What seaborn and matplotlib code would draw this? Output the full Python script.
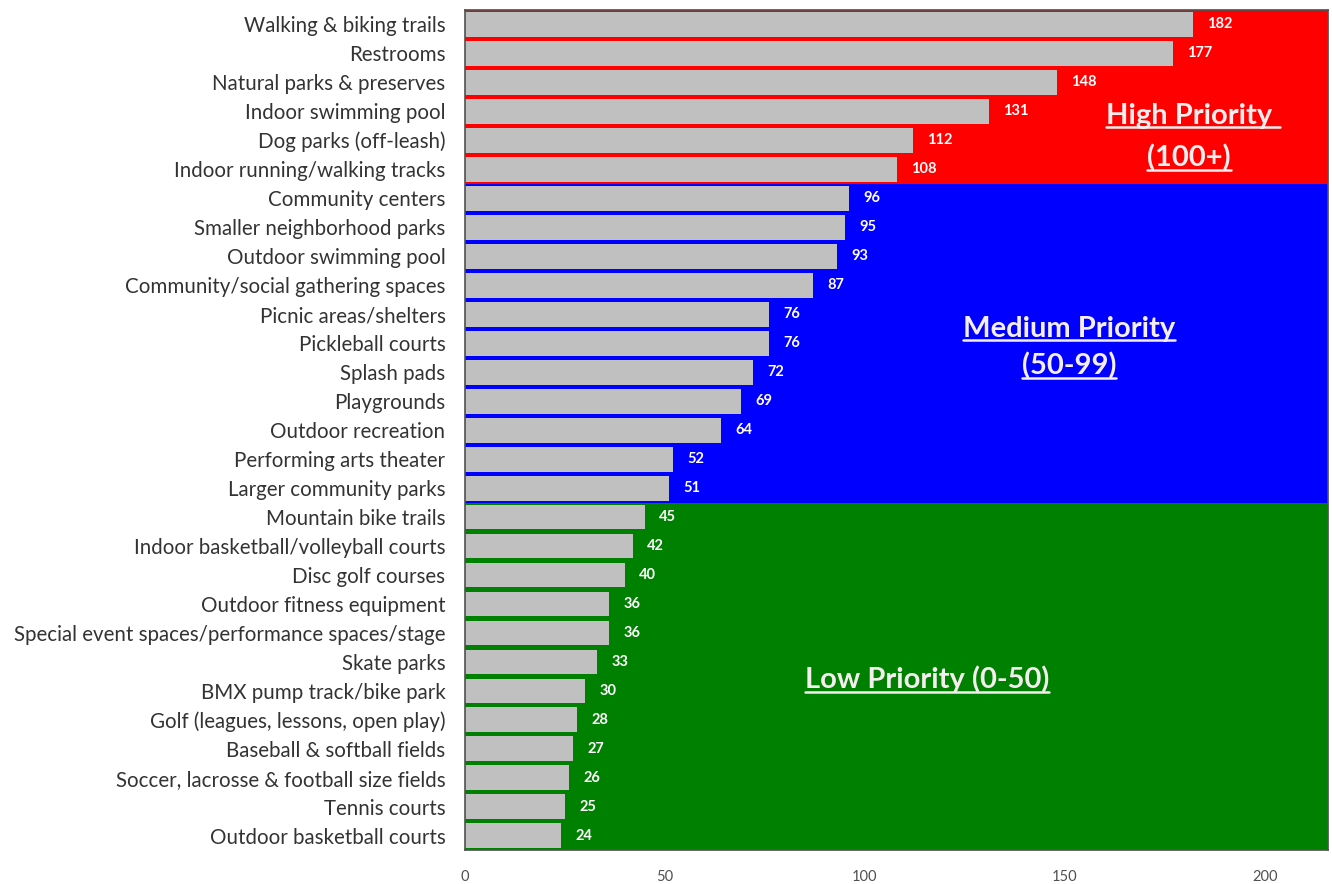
import matplotlib
matplotlib.use("Agg")
import matplotlib.pyplot as plt
import seaborn as sns
import pandas as pd

categories = [
    "Walking & biking trails", "Restrooms", "Natural parks & preserves",
    "Indoor swimming pool", "Dog parks (off-leash)", "Indoor running/walking tracks",
    "Community centers", "Smaller neighborhood parks", "Outdoor swimming pool",
    "Community/social gathering spaces", "Picnic areas/shelters", "Pickleball courts",
    "Splash pads", "Playgrounds", "Outdoor recreation", "Performing arts theater",
    "Larger community parks", "Mountain bike trails", "Indoor basketball/volleyball courts",
    "Disc golf courses", "Outdoor fitness equipment",
    "Special event spaces/performance spaces/stage", "Skate parks",
    "BMX pump track/bike park", "Golf (leagues, lessons, open play)",
    "Baseball & softball fields", "Soccer, lacrosse & football size fields",
    "Tennis courts", "Outdoor basketball courts",
]
values = [182, 177, 148, 131, 112, 108, 96, 95, 93, 87, 76, 76, 72, 69, 64, 52, 51,
          45, 42, 40, 36, 36, 33, 30, 28, 27, 26, 25, 24]
x_ticks = [0, 50, 100, 150, 200]
bands = [("#FF0000", 0, 6), ("#0000FF", 6, 17), ("#008000", 17, 29)]
band_texts = ["High Priority ", "(100+)", "Medium Priority", "(50-99)", "Low Priority (0-50)"]

df = pd.DataFrame({"category": categories, "value": values})

sns.set_style("white")
plt.rcParams["font.family"] = ["Lato", "DejaVu Sans"]

fig = plt.figure(figsize=(13.32, 8.84), dpi=100)
ax = fig.add_axes([0.349, 0.038, 0.648, 0.951])

for col, start, end in bands:
    ax.axhspan(start - 0.5, end - 0.5, color=col, zorder=0, lw=0)

sns.barplot(data=df, y="category", x="value", orient="h", color="#C0C0C0",
            width=0.86, saturation=1, ax=ax, zorder=2, linewidth=0)

for i, v in enumerate(values):
    ax.text(v + 3.6, i, str(v), color="white", fontweight="bold", fontsize=10.5,
            va="center", ha="left", zorder=3)

ax.set_xlim(0, 215.8)
ax.set_ylim(len(categories) - 0.5, -0.5)
ax.set_xticks(x_ticks)
ax.set_xticklabels([str(t) for t in x_ticks], fontsize=10.5, color="#505050")
ax.tick_params(axis="y", labelsize=14.8, labelcolor="#333333", length=0, pad=14)
ax.tick_params(axis="x", length=0, pad=14)
ax.set_xlabel("")
ax.set_ylabel("")
for s in ax.spines.values():
    s.set_color("#505050")
    s.set_linewidth(1.2)

positions = [(182, 3.15), (181, 4.6), (151, 10.5), (151, 11.8), (115.5, 22.6)]
tobjs = []
for t, (x, y) in zip(band_texts, positions):
    tobjs.append(ax.text(x, y, t, color="#F5EEEE", fontweight="bold", fontsize=21,
                         ha="center", va="center", zorder=4))

fig.canvas.draw()
renderer = fig.canvas.get_renderer()
inv = fig.transFigure.inverted()
for tobj in tobjs:
    bb = tobj.get_window_extent(renderer)
    (x0, y0), (x1, y1) = inv.transform([[bb.x0, bb.y0], [bb.x1, bb.y1]])
    yl = y0 + (y1 - y0) * 0.06
    fig.add_artist(plt.Line2D([x0, x1], [yl, yl], transform=fig.transFigure,
                              color="#F5EEEE", lw=1.8, zorder=5))

fig.savefig("out.png", dpi=100)
